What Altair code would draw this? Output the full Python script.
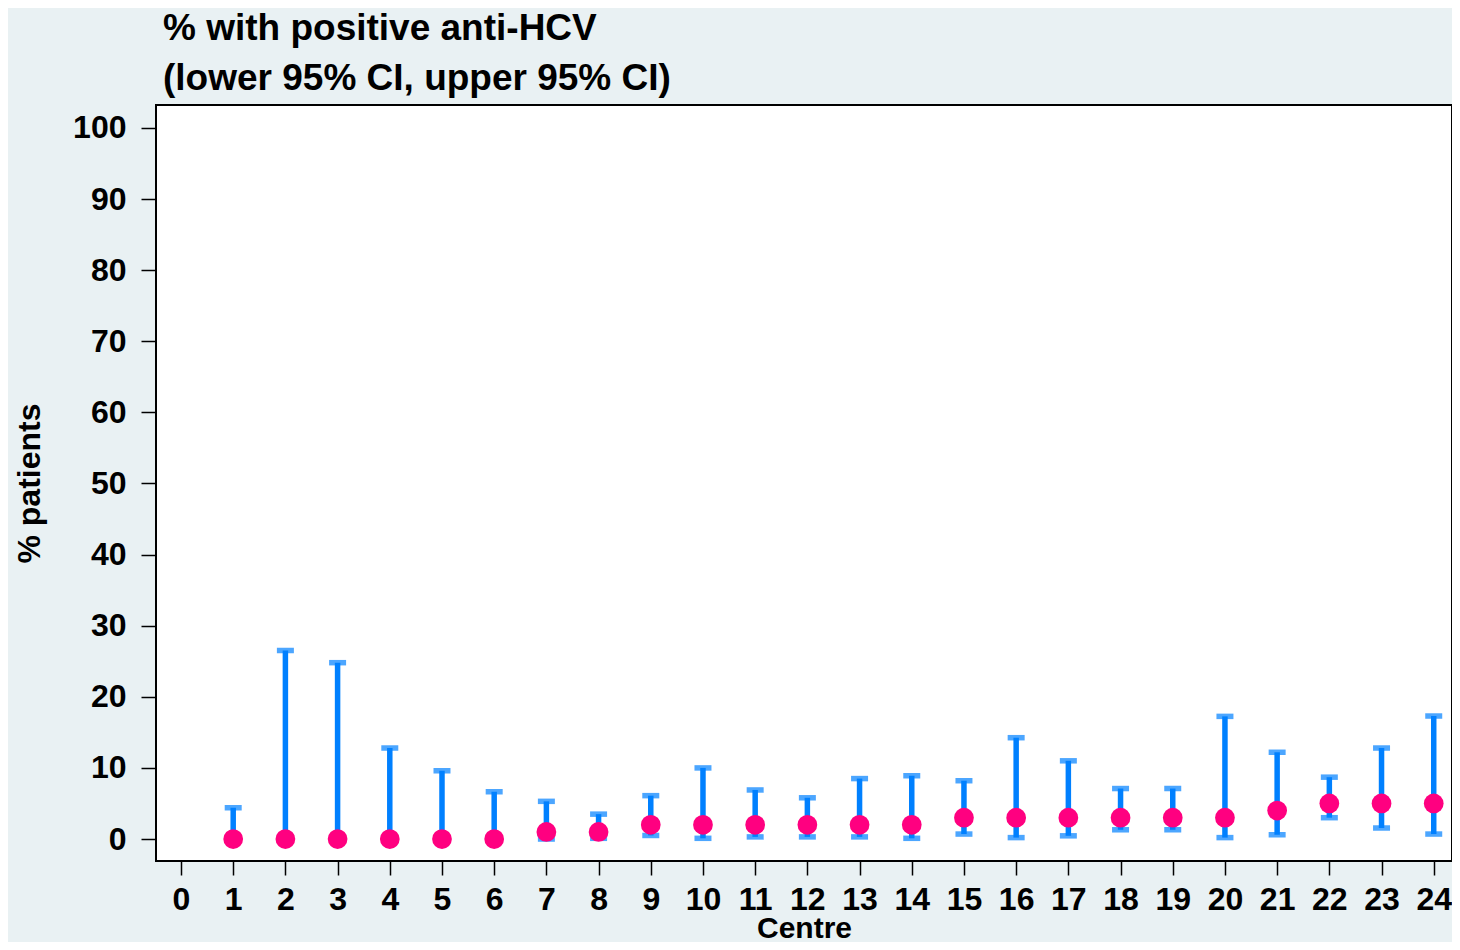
import altair as alt
import pandas as pd

centre = list(range(1, 25))
pct = [0, 0, 0, 0, 0, 0, 1, 1, 2, 2, 2, 2, 2, 2, 3, 3, 3, 3, 3, 3, 4, 5, 5, 5]
lower = [0, 0, 0, 0, 0, 0, 0, 0.1, 0.5, 0.1, 0.3, 0.3, 0.3, 0.1, 0.7, 0.2,
         0.45, 1.3, 1.3, 0.2, 0.6, 3.0, 1.55, 0.7]
upper = [4.4, 26.5, 24.8, 12.8, 9.6, 6.65, 5.3, 3.5, 6.1, 10.0, 6.9, 5.8,
         8.5, 8.9, 8.2, 14.25, 11.0, 7.1, 7.1, 17.25, 12.2, 8.7, 12.8, 17.3]
x_ticks = list(range(0, 25))
y_ticks = list(range(0, 101, 10))

df = pd.DataFrame({"centre": centre, "pct": pct, "lower": lower, "upper": upper})

FONT = "Liberation Sans"
BLUE = "#0080ff"
PINK = "#ff0080"

x = alt.X("centre:Q", title="Centre",
          scale=alt.Scale(domain=[-0.479, 24.35], nice=False, zero=False),
          axis=alt.Axis(values=x_ticks, grid=False, domain=False, tickSize=14,
                        tickWidth=1.5, tickColor="black", labelPadding=9,
                        labelFontSize=32, labelFontWeight="bold", labelColor="black",
                        titleFontSize=30, titleFontWeight="bold", titleColor="black",
                        titlePadding=-2, labelFont=FONT, titleFont=FONT, format="d"))
y_scale = alt.Scale(domain=[-3.09, 103.23], nice=False, zero=False)
y_axis = alt.Axis(values=y_ticks, grid=False, domain=False, tickSize=15, tickWidth=1.5,
                  tickColor="black", labelPadding=15, labelFontSize=32,
                  labelFontWeight="bold", labelColor="black", titleFontSize=32,
                  titleFontWeight="bold", titleColor="black", titlePadding=26,
                  labelFont=FONT, titleFont=FONT, format="d")

base = alt.Chart(df)

rules = base.mark_rule(color=BLUE, strokeWidth=5.5).encode(
    x=x,
    y=alt.Y("lower:Q", title="% patients", scale=y_scale, axis=y_axis),
    y2="upper:Q",
)
cap_hi = base.mark_tick(color=BLUE, orient="horizontal", size=17, thickness=5.5).encode(
    x=x, y=alt.Y("upper:Q", scale=y_scale))
cap_lo = base.mark_tick(color=BLUE, orient="horizontal", size=17, thickness=5.5).encode(
    x=x, y=alt.Y("lower:Q", scale=y_scale))
dots = base.mark_circle(color=PINK, size=390, opacity=1).encode(
    x=x, y=alt.Y("pct:Q", scale=y_scale))

chart = alt.layer(rules, cap_hi, cap_lo, dots).properties(
    width=1296, height=756,
    padding={"left": 148, "top": 97, "right": 0, "bottom": 81},
    autosize=alt.AutoSizeParams(type="none"),
    title=alt.TitleParams(
        text=["% with positive anti-HCV", "(lower 95% CI, upper 95% CI)"],
        anchor="start", frame="group", dx=7, offset=7, fontSize=37,
        lineHeight=50, font=FONT, fontWeight="bold", color="black"),
).configure(background="#e9f1f3").configure_view(
    stroke="black", strokeWidth=2, fill="white")

chart.save("out.html", embed_options={"renderer": "svg", "actions": False})
